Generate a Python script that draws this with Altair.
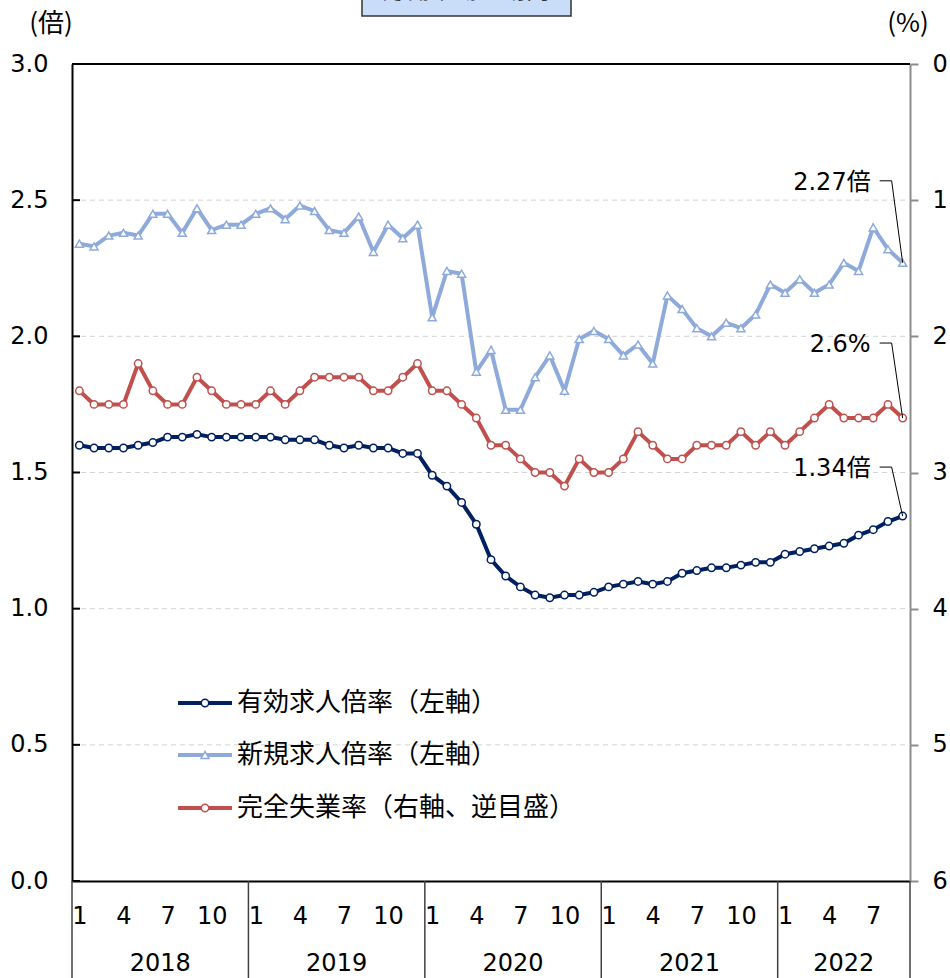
import altair as alt
import pandas as pd

# ---- data -------------------------------------------------------------
years = [2018, 2019, 2020, 2021, 2022]
months_in_year = [12, 12, 12, 12, 9]

# 有効求人倍率 (倍)
jobs_ratio = [1.60, 1.59, 1.59, 1.59, 1.60, 1.61, 1.63, 1.63, 1.64, 1.63, 1.63, 1.63,
              1.63, 1.63, 1.62, 1.62, 1.62, 1.60, 1.59, 1.60, 1.59, 1.59, 1.57, 1.57,
              1.49, 1.45, 1.39, 1.31, 1.18, 1.12, 1.08, 1.05, 1.04, 1.05, 1.05, 1.06,
              1.08, 1.09, 1.10, 1.09, 1.10, 1.13, 1.14, 1.15, 1.15, 1.16, 1.17, 1.17,
              1.20, 1.21, 1.22, 1.23, 1.24, 1.27, 1.29, 1.32, 1.34]
# 新規求人倍率 (倍)
new_jobs_ratio = [2.34, 2.33, 2.37, 2.38, 2.37, 2.45, 2.45, 2.38, 2.47, 2.39, 2.41, 2.41,
                  2.45, 2.47, 2.43, 2.48, 2.46, 2.39, 2.38, 2.44, 2.31, 2.41, 2.36, 2.41,
                  2.07, 2.24, 2.23, 1.87, 1.95, 1.73, 1.73, 1.85, 1.93, 1.80, 1.99, 2.02,
                  1.99, 1.93, 1.97, 1.90, 2.15, 2.10, 2.03, 2.00, 2.05, 2.03, 2.08, 2.19,
                  2.16, 2.21, 2.16, 2.19, 2.27, 2.24, 2.40, 2.32, 2.27]
# 完全失業率 (%)
unemployment = [2.4, 2.5, 2.5, 2.5, 2.2, 2.4, 2.5, 2.5, 2.3, 2.4, 2.5, 2.5,
                2.5, 2.4, 2.5, 2.4, 2.3, 2.3, 2.3, 2.3, 2.4, 2.4, 2.3, 2.2,
                2.4, 2.4, 2.5, 2.6, 2.8, 2.8, 2.9, 3.0, 3.0, 3.1, 2.9, 3.0,
                3.0, 2.9, 2.7, 2.8, 2.9, 2.9, 2.8, 2.8, 2.8, 2.7, 2.8, 2.7,
                2.8, 2.7, 2.6, 2.5, 2.6, 2.6, 2.6, 2.5, 2.6]

series_names = ["有効求人倍率（左軸）", "新規求人倍率（左軸）", "完全失業率（右軸、逆目盛）"]
series_colors = ["#002060", "#8EAADB", "#C0504D"]
series_shapes = ["circle", "triangle-up", "circle"]

left_ticks = [0.0, 0.5, 1.0, 1.5, 2.0, 2.5, 3.0]
right_ticks = [0, 1, 2, 3, 4, 5, 6]
month_ticks = [1, 4, 7, 10]

# ---- geometry -----------------------------------------------------------
W, H = 838, 817
N = sum(months_in_year)
PX_X = W / N          # pixels per month
PX_L = H / 3          # pixels per 1.0 on the left scale
PX_R = H / 6          # pixels per 1% on the right scale

NUM_FONT = "DejaVu Sans"
JP_FONT = "Noto Sans CJK JP"
MIX_FONT = "DejaVu Sans, Noto Sans CJK JP"

t = [i + 0.5 for i in range(N)]
df = pd.DataFrame({"t": t, "jobs": jobs_ratio, "new": new_jobs_ratio, "unemp": unemployment})
one = pd.DataFrame({"k": [0]})

# year boundaries and centres
starts = [sum(months_in_year[:i]) for i in range(len(years))]
bounds = pd.DataFrame({"b": starts + [N]})
year_df = pd.DataFrame({"c": [s + m / 2 for s, m in zip(starts, months_in_year)],
                        "year": [str(y) for y in years]})
month_values = [s + m - 1 + 0.5 for s, cnt in zip(starts, months_in_year)
                for m in month_ticks if m <= cnt]

xs = alt.Scale(domain=[0, N], nice=False, zero=False)
ys_left = alt.Scale(domain=[0, 3], nice=False, zero=False)
ys_right = alt.Scale(domain=[0, 6], reverse=True, nice=False, zero=False)

x_axis = alt.Axis(values=month_values, labelExpr="floor(datum.value) % 12 + 1",
                  ticks=False, tickSize=0, domain=True, domainColor="black", domainWidth=2,
                  grid=False, labelFont=NUM_FONT, labelFontSize=24, labelColor="black",
                  labelBaseline="middle", labelPadding=35, labelFlush=False,
                  labelOverlap=False, title=None)
left_axis = alt.Axis(values=left_ticks, format=".1f", ticks=False, tickSize=0,
                     domain=True, domainColor="black", domainWidth=2, grid=False,
                     labelFont=NUM_FONT, labelFontSize=24, labelColor="black",
                     labelPadding=24, labelFlush=False, labelOverlap=False, title=None)
right_axis = alt.Axis(orient="right", values=right_ticks, format="d", ticks=True,
                      tickSize=8, tickColor="#8c8c8c", tickWidth=2, domain=True,
                      domainColor="#8c8c8c", domainWidth=2, grid=False,
                      labelFont=NUM_FONT, labelFontSize=24, labelColor="black",
                      labelPadding=14, labelFlush=False, labelOverlap=False, title=None)


def X(field):
    return alt.X(f"{field}:Q", scale=xs, axis=x_axis)


def YL(field):
    return alt.Y(f"{field}:Q", scale=ys_left, axis=left_axis)


def YR(field):
    return alt.Y(f"{field}:Q", scale=ys_right, axis=right_axis)


# ---- frame ---------------------------------------------------------------
grid = alt.Chart(pd.DataFrame({"g": left_ticks[1:-1]})).mark_rule(
    color="#d4d4d4", strokeWidth=1, strokeDash=[5, 4]
).encode(y=YL("g"), x=alt.value(0), x2=alt.value(W))

inner_ticks = alt.Chart(pd.DataFrame({"g": left_ticks})).mark_rule(
    color="black", strokeWidth=2
).encode(y=YL("g"), x=alt.value(0), x2=alt.value(8))

top_border = alt.Chart(one).mark_rule(color="black", strokeWidth=2).encode(
    y=alt.value(0), x=alt.value(0), x2=alt.value(W))

year_rules = alt.Chart(bounds).mark_rule(color="#404040", strokeWidth=1.5).encode(
    x=X("b"), y=alt.value(H), y2=alt.value(H + 97))

year_text = alt.Chart(year_df).mark_text(
    font=NUM_FONT, fontSize=24, color="black", baseline="middle", align="center"
).encode(x=X("c"), y=alt.value(H + 83), text="year:N")

unit_left = alt.Chart(one).mark_text(
    text="(倍)", font=JP_FONT, fontSize=26, color="black", align="center", baseline="middle"
).encode(x=alt.value(-21), y=alt.value(-40))
unit_right = alt.Chart(one).mark_text(
    text="(%)", font=JP_FONT, fontSize=26, color="black", align="center", baseline="middle"
).encode(x=alt.value(836), y=alt.value(-40))

# heading box sitting above the top edge of the page
title_box = alt.Chart(one).mark_rect(
    fill="#C9DCF8", stroke="#333333", strokeWidth=1.5
).encode(x=alt.value(290), x2=alt.value(499), y=alt.value(-90), y2=alt.value(-48))
title_text = alt.Chart(one).mark_text(
    text="労働市場の動向", font=JP_FONT, fontSize=24, color="black",
    align="center", baseline="bottom"
).encode(x=alt.value(394), y=alt.value(-61))

# ---- series ----------------------------------------------------------------
def series(field, color, shape, yenc):
    line = alt.Chart(df).mark_line(color=color, strokeWidth=4).encode(x=X("t"), y=yenc(field))
    pts = alt.Chart(df).mark_point(
        shape=shape, filled=True, fill="white", stroke=color, strokeWidth=1.5,
        size=55 if shape == "circle" else 65, opacity=1
    ).encode(x=X("t"), y=yenc(field))
    return line, pts


new_line, new_pts = series("new", series_colors[1], series_shapes[1], YL)
jobs_line, jobs_pts = series("jobs", series_colors[0], series_shapes[0], YL)
un_line, un_pts = series("unemp", series_colors[2], series_shapes[2], YR)


# ---- end-point call-outs -----------------------------------------------------
def callout(value, label, up_px, per_unit, sign, yenc):
    """Leader line from the last point up-left to a label."""
    end_x = t[-1]
    elbow_x = end_x - 11 / PX_X
    stub_x = elbow_x - 12 / PX_X
    elbow_y = value + sign * up_px / per_unit
    lead = pd.DataFrame({"x": [stub_x, elbow_x, end_x],
                         "y": [elbow_y, elbow_y, value], "o": [0, 1, 2]})
    line = alt.Chart(lead).mark_line(color="black", strokeWidth=1).encode(
        x=X("x"), y=yenc("y"), order="o:Q")
    txt = alt.Chart(pd.DataFrame({"x": [stub_x], "y": [elbow_y], "lab": [label]})).mark_text(
        font=MIX_FONT, fontSize=24, color="black", align="right", baseline="middle", dx=-9, dy=2
    ).encode(x=X("x"), y=yenc("y"), text="lab:N")
    return line, txt


new_lead, new_lab = callout(new_jobs_ratio[-1], f"{new_jobs_ratio[-1]:.2f}倍", 82, PX_L, 1, YL)
jobs_lead, jobs_lab = callout(jobs_ratio[-1], f"{jobs_ratio[-1]:.2f}倍", 49, PX_L, 1, YL)
un_lead, un_lab = callout(unemployment[-1], f"{unemployment[-1]:.1f}%", 75, PX_R, -1, YR)

# ---- legend -------------------------------------------------------------------
legend_rows = [639, 691, 744]
legend_layers = []
for name, color, shape, ry in zip(series_names, series_colors, series_shapes, legend_rows):
    legend_layers.append(alt.Chart(one).mark_rule(color=color, strokeWidth=4).encode(
        x=alt.value(106), x2=alt.value(160), y=alt.value(ry)))
    legend_layers.append(alt.Chart(one).mark_point(
        shape=shape, filled=True, fill="white", stroke=color, strokeWidth=1.5,
        size=55 if shape == "circle" else 65, opacity=1
    ).encode(x=alt.value(133), y=alt.value(ry)))
    legend_layers.append(alt.Chart(one).mark_text(
        text=name, font=JP_FONT, fontSize=26, color="black", align="left", baseline="middle"
    ).encode(x=alt.value(165), y=alt.value(ry)))

left_group = alt.layer(
    grid, inner_ticks, top_border, year_rules, year_text,
    new_line, new_pts, jobs_line, jobs_pts,
    new_lead, new_lab, jobs_lead, jobs_lab,
    unit_left, unit_right, title_box, title_text,
    *legend_layers,
)
right_group = alt.layer(un_line, un_pts, un_lead, un_lab)

chart = alt.layer(left_group, right_group).resolve_scale(y="independent").properties(
    width=W, height=H,
    autosize=alt.AutoSizeParams(type="none"),
    padding={"left": 72, "top": 64, "right": 40, "bottom": 97},
    background="white",
).configure_view(stroke=None)

chart.save("out.html", embed_options={"renderer": "svg", "actions": False})
